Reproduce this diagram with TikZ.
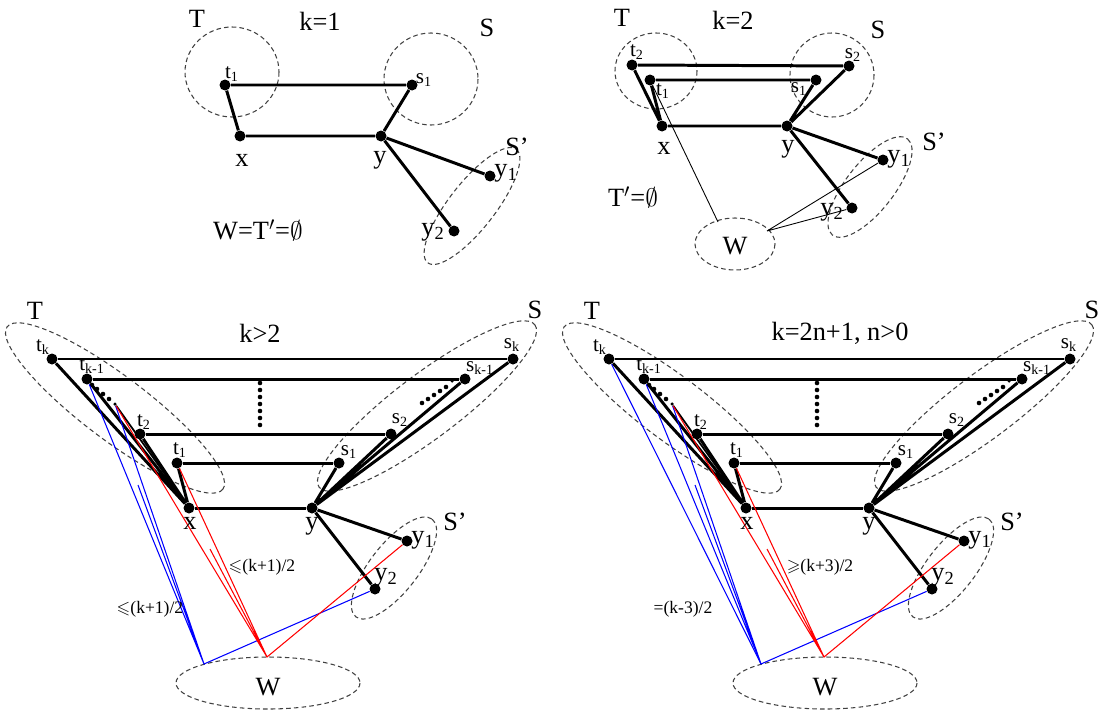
\documentclass[tikz,border=0pt]{standalone}
\usepackage{amssymb}
\usepackage{fontspec}
\setmainfont{Liberation Serif}

\begin{document}
\begin{tikzpicture}[
    x=0.02cm, y=-0.02cm,
    dot/.style={circle, fill=black, inner sep=0pt, minimum size=0.22cm},
    tiny/.style={circle, fill=black, inner sep=0pt, minimum size=0.07cm},
    bond/.style={line width=1.7pt},
    tie/.style={line width=0.5pt},
    blu/.style={line width=0.6pt, blue},
    rd/.style={line width=0.6pt, red},
    grp/.style={draw=black!75, dash pattern=on 2.6pt off 1.8pt, line width=0.6pt},
    big/.style={font=\fontsize{15}{17}\selectfont, inner sep=0pt},
    lab/.style={font=\fontsize{12}{14}\selectfont, inner sep=0pt},
    note/.style={font=\fontsize{10}{12}\selectfont, inner sep=0pt},
  ]
  \useasboundingbox (0,0) rectangle (1101,710);

  % k=1
  \draw[grp] (232,72) ellipse [x radius=47, y radius=45];
  \draw[grp] (431,79) ellipse [x radius=47, y radius=46];
  \draw[grp, rotate around={52:(472,206)}] (472,206) ellipse [x radius=72, y radius=23];
  \node[dot] (At1) at (225,85) {};
  \node[dot] (As1) at (412,85) {};
  \node[dot] (Ax) at (240,136) {};
  \node[dot] (Ay) at (381,136) {};
  \node[dot] (Ay1) at (490,176) {};
  \node[dot] (Ay2) at (454,231) {};
  \draw[bond] (At1) -- (As1) (As1) -- (Ay) (Ay) -- (Ax) (Ax) -- (At1);
  \draw[bond] (Ay) -- (Ay1) (Ay) -- (Ay2);
  \node[big] (AT) at (197,19) {T};
  \node[big] (Ak) at (320,21) {k=1};
  \node[big] (AS) at (487,28) {S};
  \node[big] (ASp) at (517,147) {S’};
  \node[lab] (At1l) at (232,74) {t\textsubscript{1}};
  \node[lab] (As1l) at (424,80) {s\textsubscript{1}};
  \node[big] (Axl) at (242,160) {x};
  \node[big] (Ayl) at (380,160) {y};
  \node[big] (Ay1l) at (506,173) {y\textsubscript{1}};
  \node[big] (Ay2l) at (433,232) {y\textsubscript{2}};
  \node[big] (Anull) at (258,230) {W=T$'$=$\emptyset$};

  % k=2
  \draw[grp] (656,71) ellipse [x radius=41, y radius=38];
  \draw[grp] (832,75) ellipse [x radius=42, y radius=42];
  \draw[grp, rotate around={52:(870,187)}] (870,187) ellipse [x radius=61, y radius=24];
  \draw[grp] (735,244) ellipse [x radius=40, y radius=26];
  \node[dot] (Bt2) at (632,65) {};
  \node[dot] (Bt1) at (650,80) {};
  \node[dot] (Bs2) at (849,66) {};
  \node[dot] (Bs1) at (816,80) {};
  \node[dot] (Bx) at (662,126) {};
  \node[dot] (By) at (787,126) {};
  \node[dot] (By1) at (883,160) {};
  \node[dot] (By2) at (852,208) {};
  \coordinate (Bw1) at (718,222);
  \coordinate (Bw2) at (767,231);
  \draw[bond] (Bt2) -- (Bs2) (Bt1) -- (Bs1) (Bx) -- (By);
  \draw[bond] (Bx) -- (Bt2) (Bx) -- (Bt1) (By) -- (Bs1) (By) -- (Bs2);
  \draw[bond] (By) -- (By1) (By) -- (By2);
  \draw[tie] (Bt1) -- (Bw1) (Bw2) -- (By1) (Bw2) -- (By2);
  \node[big] (BT) at (622,18) {T};
  \node[big] (Bk) at (733,20) {k=2};
  \node[big] (BS) at (878,30) {S};
  \node[big] (BSp) at (934,142) {S’};
  \node[big] (BW) at (735,246) {W};
  \node[lab] (Bt2l) at (637,52) {t\textsubscript{2}};
  \node[lab] (Bt1l) at (663,91) {t\textsubscript{1}};
  \node[lab] (Bs2l) at (853,55) {s\textsubscript{2}};
  \node[lab] (Bs1l) at (799,89) {s\textsubscript{1}};
  \node[big] (Bxl) at (664,148) {x};
  \node[big] (Byl) at (788,149) {y};
  \node[big] (By1l) at (899,159) {y\textsubscript{1}};
  \node[big] (By2l) at (832,212) {y\textsubscript{2}};
  \node[big] (Bnull) at (633,197) {T$'$=$\emptyset$};

  % k>2 and k=2n+1
  \foreach \p/\dx in {C/0, D/557} {
    \begin{scope}[shift={(\dx,0)}]
      \draw[grp, rotate around={-37:(115,408)}] (115,408) ellipse [x radius=135, y radius=32];
      \draw[grp, rotate around={37:(427,406)}] (427,406) ellipse [x radius=135, y radius=32];
      \draw[grp, rotate around={52:(394,568)}] (394,568) ellipse [x radius=62, y radius=24];
      \draw[grp] (268,683) ellipse [x radius=92, y radius=26];
      \node[dot] (\p tk) at (52,359) {};
      \node[dot] (\p tkm) at (87,379) {};
      \node[dot] (\p t2) at (140,434) {};
      \node[dot] (\p t1) at (177,463) {};
      \node[dot] (\p x) at (189,508) {};
      \node[dot] (\p sk) at (513,359) {};
      \node[dot] (\p skm) at (465,379) {};
      \node[dot] (\p s2) at (391,434) {};
      \node[dot] (\p s1) at (339,463) {};
      \node[dot] (\p y) at (312,508) {};
      \node[dot] (\p y1) at (407,541) {};
      \node[dot] (\p y2) at (375,589) {};
      \node[tiny] (\p tdot) at (115,404) {};
      \node[tiny] (\p sdot) at (452,381) {};
      \coordinate (\p wb) at (204,664);
      \coordinate (\p wr) at (267,657);
      \coordinate (\p bs) at (138,485);
      \coordinate (\p rs) at (210,549);
      \foreach \u/\v in {92/385, 97/389, 103/394, 109/399}
        \fill (\u,\v) circle [radius=2.3];
      \foreach \u/\v in {422/403, 428/399, 434/395, 440/391, 446/387}
        \fill (\u,\v) circle [radius=2.3];
      \foreach \v in {383,390,...,425}
        \fill (260,\v) circle [radius=2.3];
      \draw[bond] (\p tk) -- (\p sk) (\p tkm) -- (\p skm) (\p t2) -- (\p s2)
        (\p t1) -- (\p s1) (\p x) -- (\p y);
      \draw[bond] (\p x) -- (\p t1) (\p x) -- (\p t2) (\p x) -- (\p tkm) (\p x) -- (\p tk);
      \draw[line width=1pt] (\p x) -- (\p tdot);
      \draw[bond] (\p y) -- (\p s1) (\p y) -- (\p s2) (\p y) -- (\p skm) (\p y) -- (\p sk);
      \draw[bond] (\p y) -- (\p y1) (\p y) -- (\p y2);
      \draw[blu] (\p tkm) -- (\p wb) (\p tdot) -- (\p wb) (\p bs) -- (\p wb) -- (\p y2);
      \draw[rd] (\p tdot) -- (\p wr) (\p t1) -- (\p wr) (\p rs) -- (\p wr) -- (\p y1);
      \node[big] (\p T) at (35,311) {T};
      \node[big] (\p S) at (535,310) {S};
      \node[big] (\p Sp) at (455,522) {S’};
      \node[big] (\p W) at (268,687) {W};
      \node[lab] (\p tkl) at (43,347) {t\textsubscript{k}};
      \node[lab] (\p tkml) at (92,366) {t\textsubscript{k-1}};
      \node[lab] (\p t2l) at (144,422) {t\textsubscript{2}};
      \node[lab] (\p t1l) at (180,450) {t\textsubscript{1}};
      \node[lab] (\p skl) at (512,345) {s\textsubscript{k}};
      \node[lab] (\p skml) at (480,368) {s\textsubscript{k-1}};
      \node[lab] (\p s2l) at (400,420) {s\textsubscript{2}};
      \node[lab] (\p s1l) at (349,452) {s\textsubscript{1}};
      \node[big] (\p xl) at (190,523) {x};
      \node[big] (\p yl) at (312,526) {y};
      \node[big] (\p y1l) at (423,540) {y\textsubscript{1}};
      \node[big] (\p y2l) at (386,577) {y\textsubscript{2}};
    \end{scope}
  }
  \draw[blu] (Dtk) -- (Dwb);
  \node[big] (Ck) at (260,333) {k>2};
  \node[big] (Dk) at (840,333) {k=2n+1, n>0};
  \node[note] (Cnear) at (262,567) {$\leqslant$(k+1)/2};
  \node[note] (Cfar) at (150,609) {$\leqslant$(k+1)/2};
  \node[note] (Dnear) at (820,567) {$\geqslant$(k+3)/2};
  \node[note] (Dfar) at (683,609) {=(k-3)/2};
\end{tikzpicture}
\end{document}
